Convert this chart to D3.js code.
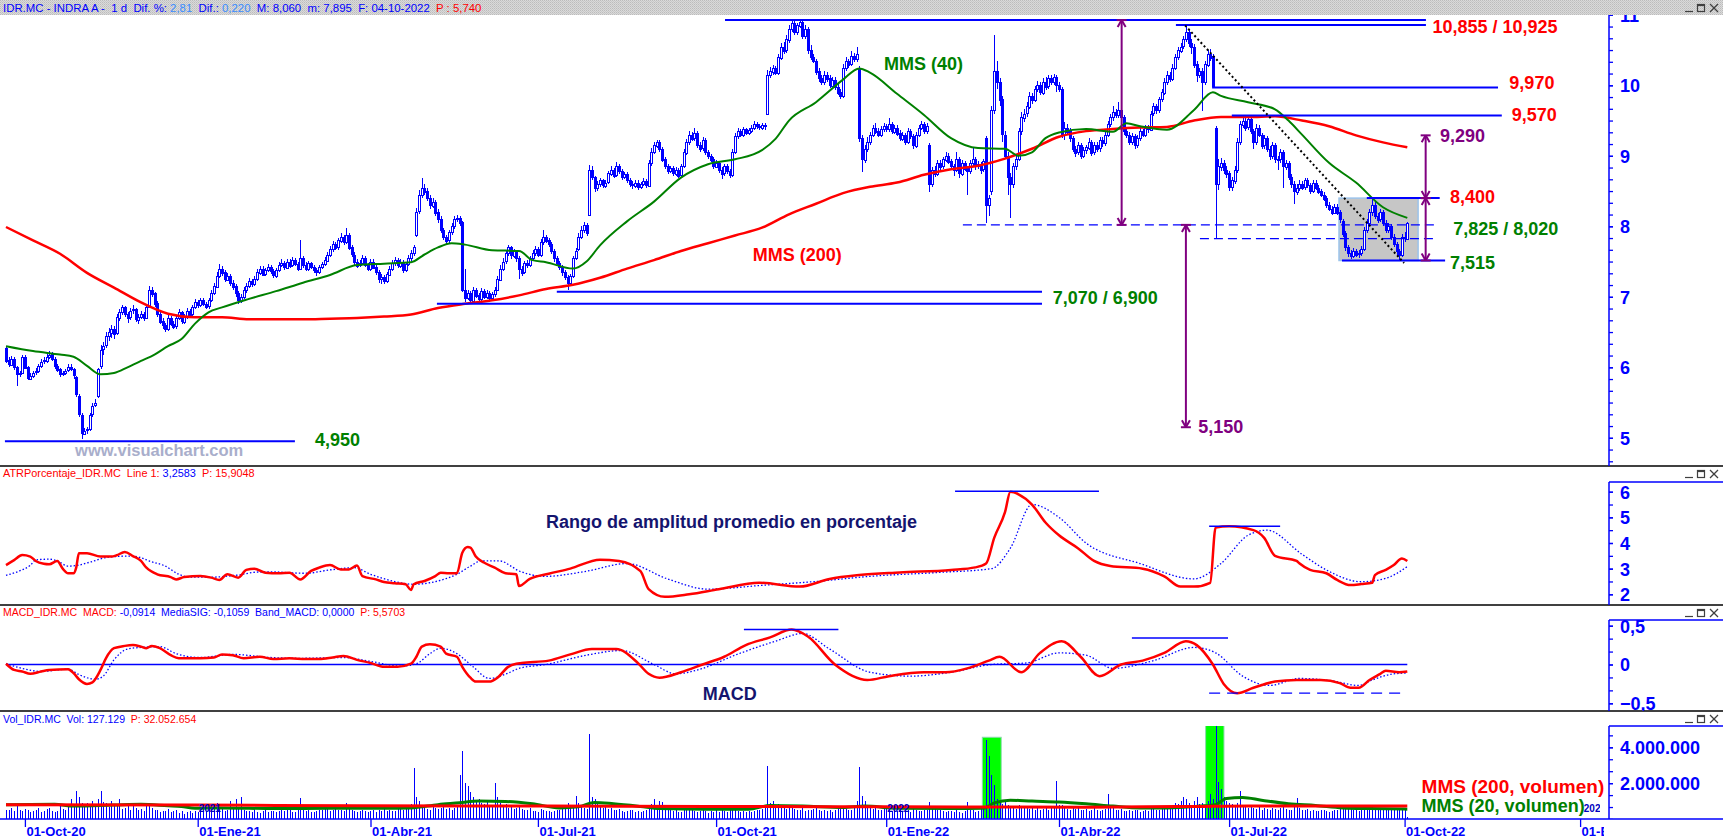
<!DOCTYPE html>
<html>
<head>
<meta charset="utf-8">
<script src="https://cdn.jsdelivr.net/npm/d3@7"></script>
<style>
  body { margin: 0; background: #fff; }
  svg { display: block; }
  text { white-space: pre; }
</style>
</head>
<body>
<svg id="chart" width="1723" height="839"></svg>
<script>
// daily bars, IDR.MC, roughly 22-sep-2020 .. 04-oct-2022
const opens = [
  6.28,6.10,6.04,6.12,6.00,5.90,5.93,6.15,6.00,5.84, 5.88,5.93,5.95,6.02,6.09,6.10,6.15,6.19,6.12,6.02,
  5.97,5.90,5.92,5.96,6.01,5.97,5.86,5.60,5.33,5.06, 5.11,5.12,5.34,5.47,5.59,6.02,6.26,6.32,6.44,6.50,
  6.55,6.50,6.70,6.78,6.85,6.76,6.71,6.80,6.82,6.68, 6.72,6.76,6.70,6.86,7.10,7.05,6.91,6.76,6.66,6.60,
  6.55,6.70,6.62,6.58,6.70,6.78,6.65,6.72,6.80,6.75, 6.85,6.92,6.88,6.95,6.90,6.86,6.95,7.05,7.15,7.30,
  7.40,7.35,7.25,7.30,7.20,7.15,7.05,6.95,7.00,7.10, 7.15,7.22,7.18,7.25,7.35,7.40,7.32,7.38,7.42,7.36,
  7.30,7.38,7.45,7.48,7.42,7.50,7.45,7.52,7.47,7.40, 7.55,7.45,7.40,7.48,7.42,7.38,7.35,7.42,7.46,7.52,
  7.60,7.68,7.75,7.70,7.80,7.85,7.78,7.88,7.70,7.60, 7.50,7.45,7.48,7.55,7.45,7.40,7.50,7.42,7.35,7.25,
  7.28,7.22,7.32,7.40,7.48,7.52,7.45,7.50,7.38,7.46, 7.55,7.62,7.88,8.22,8.45,8.55,8.50,8.40,8.30,8.35,
  8.20,8.10,7.95,7.85,7.80,7.92,8.00,8.10,8.12,8.06, 7.10,6.98,7.05,6.95,7.10,7.02,6.96,7.08,7.00,7.05,
  6.98,7.04,7.10,7.25,7.40,7.50,7.62,7.70,7.58,7.65, 7.55,7.40,7.35,7.48,7.45,7.55,7.62,7.68,7.60,7.78,
  7.85,7.80,7.75,7.65,7.55,7.48,7.42,7.35,7.28,7.20, 7.30,7.55,7.68,7.85,7.95,8.02,8.16,8.80,8.70,8.55,
  8.60,8.65,8.58,8.62,8.75,8.80,8.72,8.85,8.78,8.70, 8.74,8.65,8.60,8.58,8.62,8.56,8.60,8.64,8.58,8.90,
  9.05,9.15,9.20,9.10,8.95,8.85,8.78,8.82,8.75,8.80, 8.72,8.85,9.05,9.20,9.30,9.25,9.32,9.15,9.10,9.22,
  9.05,9.00,8.95,8.85,8.90,8.80,8.75,8.85,8.78,8.72, 9.05,9.28,9.35,9.30,9.38,9.32,9.36,9.40,9.45,9.42,
  9.40,9.44,9.60,10.15,10.20,10.25,10.18,10.40,10.55,10.50, 10.65,10.80,10.88,10.75,10.85,10.90,10.70,10.80,10.50,10.40,
  10.35,10.20,10.10,10.05,10.15,10.10,10.00,10.08,9.98,9.90, 9.85,10.25,10.35,10.30,10.42,10.38,10.24,9.25,8.95,9.10,
  9.20,9.30,9.40,9.35,9.30,9.38,9.42,9.38,9.45,9.35, 9.40,9.32,9.25,9.30,9.20,9.35,9.28,9.15,9.30,9.40,
  9.45,9.35,9.15,8.60,8.80,8.75,8.90,8.85,8.95,9.00, 8.92,8.85,8.80,8.95,8.75,8.90,8.82,8.78,8.90,8.95,
  8.85,8.88,8.80,9.25,8.30,8.50,9.65,10.20,10.05,9.80, 9.30,9.00,8.70,8.60,8.85,8.95,9.35,9.55,9.60,9.70,
  9.85,9.80,9.95,10.00,9.90,10.05,9.98,10.10,10.05,10.12, 10.00,9.95,9.30,9.40,9.35,9.25,9.10,9.05,9.15,9.00,
  9.08,9.12,9.20,9.05,9.15,9.10,9.22,9.18,9.30,9.45, 9.55,9.62,9.58,9.65,9.55,9.35,9.30,9.20,9.28,9.15,
  9.25,9.35,9.30,9.40,9.38,9.60,9.70,9.65,9.80,9.90, 10.05,10.15,10.10,10.25,10.40,10.50,10.55,10.65,10.75,10.60,
  10.55,10.30,10.15,10.20,10.05,10.30,10.45,10.42,9.40,8.60, 8.85,8.90,8.80,8.75,8.55,8.65,8.80,9.20,9.45,9.50,
  9.40,9.52,9.35,9.20,9.40,9.30,9.15,9.25,9.10,9.00, 9.15,8.95,8.95,9.05,8.85,8.90,8.70,8.60,8.50,8.55,
  8.60,8.55,8.65,8.58,8.50,8.62,8.55,8.50,8.45,8.40, 8.30,8.25,8.20,8.28,8.20,8.08,7.90,7.70,7.62,7.58,
  7.65,7.60,7.62,7.68,7.95,8.05,8.20,8.30,8.15,8.10, 8.20,8.05,7.95,8.00,7.85,7.75,7.65,7.60,7.85,7.83
];
const highs = [
  6.30,6.14,6.16,6.14,6.02,5.95,6.18,6.17,6.02,5.92, 5.95,5.99,6.05,6.12,6.14,6.20,6.23,6.21,6.14,6.04,
  5.99,5.95,5.98,6.04,6.05,5.99,5.88,5.62,5.35,5.14, 5.16,5.35,5.50,5.55,5.99,6.32,6.36,6.50,6.56,6.60,
  6.58,6.75,6.83,6.89,6.87,6.79,6.84,6.88,6.84,6.76, 6.80,6.78,6.90,7.15,7.14,7.07,6.94,6.79,6.70,6.63,
  6.74,6.73,6.65,6.74,6.82,6.80,6.76,6.84,6.83,6.89, 6.97,6.95,6.99,6.98,6.93,6.98,7.09,7.20,7.35,7.46,
  7.44,7.38,7.34,7.32,7.24,7.18,7.08,7.04,7.14,7.19, 7.26,7.25,7.29,7.39,7.44,7.43,7.41,7.46,7.45,7.39,
  7.41,7.49,7.53,7.51,7.54,7.53,7.56,7.55,7.50,7.80, 7.58,7.49,7.51,7.50,7.45,7.41,7.45,7.50,7.56,7.64,
  7.72,7.79,7.78,7.84,7.90,7.88,7.97,7.90,7.74,7.63, 7.53,7.52,7.59,7.58,7.48,7.54,7.53,7.45,7.38,7.32,
  7.31,7.35,7.44,7.52,7.56,7.55,7.53,7.52,7.49,7.59, 7.66,7.74,8.26,8.52,8.68,8.60,8.54,8.44,8.40,8.38,
  8.24,8.14,7.98,7.88,7.95,8.04,8.14,8.16,8.15,8.08, 7.40,7.10,7.08,7.14,7.13,7.05,7.12,7.11,7.09,7.08,
  7.07,7.14,7.30,7.45,7.55,7.66,7.74,7.72,7.68,7.67, 7.58,7.44,7.51,7.52,7.58,7.66,7.72,7.71,7.82,7.95,
  7.88,7.83,7.78,7.68,7.58,7.51,7.45,7.38,7.31,7.33, 7.58,7.69,7.90,8.00,8.06,8.04,8.87,8.85,8.72,8.64,
  8.68,8.67,8.66,8.79,8.86,8.83,8.91,8.88,8.81,8.77, 8.77,8.68,8.64,8.66,8.65,8.63,8.68,8.67,8.94,9.11,
  9.19,9.23,9.22,9.12,8.98,8.88,8.86,8.85,8.84,8.83, 8.89,9.09,9.24,9.35,9.34,9.40,9.35,9.19,9.26,9.25,
  9.08,9.03,8.98,8.94,8.93,8.84,8.89,8.88,8.81,9.10, 9.32,9.39,9.38,9.41,9.40,9.39,9.44,9.49,9.48,9.45,
  9.47,9.46,10.21,10.26,10.29,10.28,10.45,10.60,10.62,10.71, 10.85,10.93,10.92,10.89,10.93,10.92,10.86,10.82,10.57,10.45,
  10.38,10.24,10.15,10.20,10.19,10.14,10.12,10.12,10.02,9.95, 10.30,10.40,10.38,10.48,10.46,10.55,10.28,9.30,9.15,9.26,
  9.34,9.44,9.47,9.39,9.42,9.47,9.45,9.53,9.48,9.44, 9.43,9.36,9.34,9.33,9.39,9.38,9.31,9.34,9.44,9.50,
  9.48,9.46,9.18,8.84,8.86,8.94,8.94,8.99,9.05,9.04, 8.96,8.89,9.05,8.98,8.94,8.93,8.86,8.94,9.11,8.99,
  8.93,8.91,8.96,9.28,8.45,9.70,10.71,10.34,10.10,9.85, 9.35,9.05,8.75,8.90,9.00,9.40,9.62,9.66,9.76,9.90,
  9.89,9.99,10.06,10.04,10.10,10.12,10.15,10.14,10.16,10.15, 10.04,9.98,9.48,9.45,9.39,9.28,9.14,9.19,9.18,9.12,
  9.16,9.25,9.23,9.19,9.19,9.26,9.27,9.34,9.50,9.60, 9.70,9.67,9.77,9.68,9.58,9.40,9.34,9.32,9.31,9.29,
  9.39,9.38,9.44,9.44,9.64,9.75,9.74,9.84,9.95,10.10, 10.20,10.19,10.30,10.45,10.55,10.60,10.70,10.86,10.80,10.66,
  10.58,10.34,10.24,10.25,10.34,10.50,10.52,10.45,9.42,8.95, 8.97,8.94,8.85,8.78,8.70,8.85,9.25,9.50,9.57,9.54,
  9.57,9.55,9.38,9.45,9.43,9.33,9.29,9.28,9.14,9.20, 9.18,9.00,9.10,9.08,8.94,8.93,8.74,8.64,8.60,8.66,
  8.64,8.69,8.68,8.62,8.66,8.65,8.58,8.53,8.48,8.43, 8.34,8.29,8.32,8.31,8.23,8.10,7.93,7.74,7.66,7.69,
  7.68,7.66,7.72,7.99,8.10,8.25,8.40,8.34,8.19,8.24, 8.23,8.09,8.04,8.03,7.89,7.78,7.68,7.89,7.92,8.06
];
const lows = [
  6.06,6.00,6.02,5.96,5.73,5.86,5.90,5.97,5.82,5.83, 5.85,5.89,5.92,5.99,6.04,6.06,6.12,6.09,5.98,5.94,
  5.86,5.87,5.89,5.93,5.95,5.84,5.58,5.30,4.99,5.04, 5.06,5.09,5.30,5.44,5.57,5.98,6.18,6.28,6.38,6.42,
  6.40,6.46,6.66,6.74,6.71,6.63,6.67,6.76,6.64,6.62, 6.68,6.66,6.68,6.84,7.00,6.86,6.72,6.61,6.55,6.50,
  6.52,6.59,6.54,6.55,6.67,6.62,6.61,6.69,6.71,6.72, 6.82,6.84,6.85,6.87,6.82,6.83,6.92,7.02,7.12,7.26,
  7.30,7.21,7.22,7.16,7.10,7.00,6.90,6.91,6.97,7.06, 7.12,7.14,7.15,7.22,7.31,7.29,7.29,7.35,7.33,7.26,
  7.27,7.35,7.42,7.38,7.39,7.41,7.42,7.44,7.36,7.38, 7.41,7.36,7.37,7.39,7.34,7.30,7.32,7.39,7.43,7.49,
  7.56,7.64,7.66,7.67,7.76,7.74,7.75,7.66,7.56,7.44, 7.41,7.42,7.45,7.42,7.36,7.37,7.39,7.31,7.20,7.18,
  7.18,7.19,7.29,7.37,7.44,7.41,7.41,7.34,7.35,7.43, 7.51,7.58,7.85,8.18,8.40,8.45,8.36,8.25,8.26,8.15,
  8.05,7.90,7.80,7.75,7.77,7.88,7.96,8.06,8.00,7.07, 6.93,6.95,6.92,6.93,6.99,6.93,6.94,6.97,6.97,6.94,
  6.95,7.00,7.08,7.22,7.36,7.47,7.58,7.54,7.55,7.50, 7.25,7.30,7.32,7.41,7.42,7.52,7.58,7.56,7.57,7.74,
  7.76,7.71,7.61,7.50,7.44,7.38,7.30,7.24,7.10,7.17, 7.27,7.52,7.65,7.82,7.91,7.86,8.14,8.66,8.49,8.50,
  8.56,8.54,8.54,8.60,8.71,8.69,8.70,8.74,8.66,8.67, 8.61,8.56,8.53,8.54,8.52,8.53,8.57,8.55,8.56,8.86,
  9.02,9.11,9.06,8.91,8.81,8.74,8.75,8.71,8.72,8.68, 8.69,8.82,9.01,9.16,9.21,9.21,9.11,9.06,9.07,9.01,
  8.96,8.91,8.81,8.82,8.76,8.67,8.72,8.74,8.68,8.70, 9.02,9.24,9.27,9.27,9.29,9.29,9.33,9.37,9.38,9.36,
  9.36,9.37,9.58,10.10,10.15,10.14,10.15,10.36,10.45,10.46, 10.60,10.76,10.71,10.71,10.81,10.65,10.66,10.45,10.36,10.31,
  10.15,10.05,10.00,10.01,10.05,9.96,9.97,9.94,9.86,9.81, 9.82,10.20,10.25,10.27,10.33,10.33,9.20,8.77,8.90,9.05,
  9.16,9.26,9.31,9.26,9.26,9.34,9.34,9.34,9.31,9.31, 9.28,9.21,9.21,9.15,9.17,9.24,9.10,9.11,9.26,9.36,
  9.31,9.31,8.49,8.56,8.70,8.71,8.80,8.81,8.91,8.88, 8.81,8.72,8.77,8.69,8.71,8.78,8.45,8.74,8.86,8.80,
  8.81,8.74,8.77,8.05,8.15,8.45,9.60,9.95,9.70,9.20, 8.95,8.45,8.12,8.55,8.80,8.92,9.30,9.48,9.55,9.66,
  9.74,9.76,9.91,9.86,9.86,9.94,9.95,10.00,10.01,9.90, 9.90,9.25,9.22,9.30,9.20,9.05,8.99,9.01,8.95,8.97,
  9.03,9.08,9.00,9.01,9.06,9.06,9.13,9.14,9.26,9.41, 9.50,9.53,9.54,9.50,9.30,9.25,9.15,9.16,9.10,9.11,
  9.21,9.26,9.26,9.33,9.35,9.56,9.60,9.61,9.76,9.86, 10.01,10.05,10.06,10.21,10.36,10.46,10.51,10.61,10.55,10.45,
  10.25,10.05,10.10,9.64,10.00,10.26,10.35,9.97,7.825,8.52, 8.78,8.74,8.69,8.50,8.50,8.60,8.76,9.15,9.40,9.35,
  9.36,9.31,9.10,9.16,9.26,9.10,9.10,9.06,8.94,8.96, 8.90,8.80,8.90,8.55,8.80,8.65,8.55,8.31,8.45,8.50,
  8.51,8.52,8.54,8.46,8.47,8.51,8.46,8.41,8.36,8.26, 8.21,8.16,8.17,8.16,8.05,7.85,7.65,7.57,7.54,7.55,
  7.56,7.55,7.58,7.65,7.91,8.01,8.15,8.10,8.04,8.06, 8.00,7.90,7.90,7.80,7.70,7.60,7.515,7.56,7.78,7.895
];
const closes = [
  6.10,6.05,6.12,6.00,5.90,5.92,6.15,6.00,5.85,5.88, 5.92,5.95,6.02,6.08,6.10,6.15,6.18,6.12,6.02,5.97,
  5.90,5.92,5.95,6.00,5.98,5.88,5.62,5.35,5.08,5.10, 5.12,5.32,5.45,5.50,5.97,6.25,6.30,6.45,6.50,6.55,
  6.48,6.72,6.78,6.85,6.75,6.70,6.80,6.82,6.68,6.72, 6.76,6.70,6.85,7.10,7.05,6.90,6.75,6.65,6.60,6.55,
  6.70,6.62,6.58,6.70,6.78,6.65,6.72,6.80,6.75,6.85, 6.92,6.88,6.95,6.90,6.86,6.95,7.05,7.15,7.30,7.40,
  7.35,7.25,7.30,7.20,7.15,7.05,6.95,7.00,7.10,7.15, 7.22,7.18,7.25,7.35,7.40,7.32,7.38,7.42,7.36,7.30,
  7.38,7.45,7.48,7.42,7.50,7.45,7.52,7.47,7.40,7.55, 7.45,7.40,7.48,7.42,7.38,7.35,7.42,7.46,7.52,7.60,
  7.68,7.75,7.70,7.80,7.85,7.78,7.88,7.70,7.60,7.50, 7.45,7.48,7.55,7.45,7.40,7.50,7.42,7.35,7.25,7.28,
  7.22,7.32,7.40,7.48,7.52,7.45,7.50,7.38,7.46,7.55, 7.62,7.70,8.20,8.45,8.55,8.50,8.40,8.30,8.35,8.20,
  8.10,7.95,7.85,7.80,7.92,8.00,8.10,8.12,8.05,7.10, 6.98,7.05,6.95,7.10,7.02,6.96,7.08,7.00,7.05,6.98,
  7.04,7.10,7.25,7.40,7.50,7.62,7.70,7.58,7.65,7.55, 7.40,7.35,7.48,7.45,7.55,7.62,7.68,7.60,7.78,7.85,
  7.80,7.75,7.65,7.55,7.48,7.42,7.35,7.28,7.20,7.30, 7.55,7.65,7.85,7.95,8.02,7.90,8.80,8.70,8.55,8.60,
  8.65,8.58,8.62,8.75,8.80,8.72,8.85,8.78,8.70,8.74, 8.65,8.60,8.58,8.62,8.56,8.60,8.64,8.58,8.90,9.05,
  9.15,9.20,9.10,8.95,8.85,8.78,8.82,8.75,8.80,8.72, 8.85,9.05,9.20,9.30,9.25,9.32,9.15,9.10,9.22,9.05,
  9.00,8.95,8.85,8.90,8.80,8.75,8.85,8.78,8.72,9.05, 9.28,9.35,9.30,9.38,9.32,9.36,9.40,9.45,9.42,9.40,
  9.44,9.42,10.15,10.20,10.25,10.18,10.40,10.55,10.50,10.65, 10.80,10.88,10.75,10.85,10.90,10.70,10.80,10.50,10.40,10.35,
  10.20,10.10,10.05,10.15,10.10,10.00,10.08,9.98,9.90,9.85, 10.25,10.35,10.30,10.42,10.38,10.45,9.25,8.95,9.10,9.20,
  9.30,9.40,9.35,9.30,9.38,9.42,9.38,9.45,9.35,9.40, 9.32,9.25,9.30,9.20,9.35,9.28,9.15,9.30,9.40,9.45,
  9.35,9.42,8.60,8.80,8.75,8.90,8.85,8.95,9.00,8.92, 8.85,8.80,8.95,8.75,8.90,8.82,8.78,8.90,8.95,8.85,
  8.88,8.80,8.92,8.30,8.40,9.65,10.20,10.05,9.80,9.30, 9.00,8.70,8.60,8.85,8.95,9.35,9.55,9.60,9.70,9.85,
  9.80,9.95,10.00,9.90,10.05,9.98,10.10,10.05,10.12,10.00, 9.95,9.30,9.40,9.35,9.25,9.10,9.05,9.15,9.00,9.08,
  9.12,9.20,9.05,9.15,9.10,9.22,9.18,9.30,9.45,9.55, 9.62,9.58,9.65,9.55,9.35,9.30,9.20,9.28,9.15,9.25,
  9.35,9.30,9.40,9.38,9.60,9.70,9.65,9.80,9.90,10.05, 10.15,10.10,10.25,10.40,10.50,10.55,10.65,10.75,10.60,10.55,
  10.30,10.15,10.20,10.05,10.30,10.45,10.40,10.00,8.60,8.85, 8.90,8.80,8.75,8.55,8.65,8.80,9.20,9.45,9.50,9.40,
  9.52,9.35,9.20,9.40,9.30,9.15,9.25,9.10,9.00,9.15, 8.95,8.95,9.05,8.85,8.90,8.70,8.60,8.50,8.55,8.60,
  8.55,8.65,8.58,8.50,8.62,8.55,8.50,8.45,8.40,8.30, 8.25,8.20,8.28,8.20,8.10,7.90,7.70,7.62,7.58,7.65,
  7.60,7.62,7.68,7.95,8.05,8.20,8.30,8.15,8.10,8.20, 8.05,7.95,8.00,7.85,7.75,7.65,7.60,7.85,7.83,8.05
];
// volume, thousands of shares
const volK = [
  520,480,610,450,700,520,430,560,480,390, 450,510,620,380,470,550,600,420,380,460,
  700,560,480,820,1100,760,1570,1240,900,780, 880,650,1000,720,1100,1570,950,900,680,1000,
  760,820,1100,560,640,700,520,880,600,480, 560,430,720,900,610,480,520,390,450,420,
  560,380,430,500,330,460,280,390,430,350, 420,380,520,620,470,560,700,820,900,640,
  550,420,480,1000,580,1110,640,1200,480,450, 430,380,520,410,360,470,500,380,450,420,
  390,460,520,430,480,540,380,400,620,1180, 520,460,480,410,380,440,520,490,640,560,
  450,500,620,480,520,440,900,560,480,420, 400,460,520,430,380,420,480,400,520,470,
  560,430,500,470,420,560,610,520,640,700, 820,2830,1200,1000,760,640,580,520,700,620,
  540,620,700,560,640,520,600,720,2440,3800, 2000,1850,1500,1200,1000,1100,900,820,1050,760,
  700,2000,1200,880,760,820,640,700,560,620, 800,560,480,520,600,460,420,380,560,480,
  420,460,380,430,520,480,560,600,900,700, 640,1300,900,720,620,560,4720,1200,1100,900,
  760,640,700,560,620,520,480,560,420,380, 440,520,480,400,430,380,460,520,780,820,
  1130,640,1000,950,620,520,480,430,560,400, 380,620,480,520,560,420,380,460,500,420,
  360,440,380,480,400,520,460,380,560,620, 480,420,380,440,400,460,380,420,480,520,
  560,640,2960,900,1000,760,820,640,600,560, 700,620,560,480,520,600,460,520,480,560,
  620,480,420,500,460,520,400,480,560,620, 700,560,480,520,600,1000,2900,1300,1000,760,
  620,580,640,520,480,560,600,480,420,500, 460,520,380,440,480,400,560,520,420,460,
  500,520,960,680,560,480,520,440,400,460, 420,380,480,400,360,440,960,520,480,400,
  460,620,700,4400,3500,2450,1900,1100,900,820, 1000,760,700,640,560,760,620,600,700,560,
  640,520,600,480,560,620,520,700,640,2130, 800,760,700,580,520,640,560,600,480,520,
  560,460,520,600,480,440,500,560,1370,700, 620,520,480,560,460,420,500,440,520,480,
  380,440,500,420,560,600,520,480,560,620, 700,640,760,900,820,1000,1200,1100,900,760,
  1000,1200,820,900,700,1000,1400,1100,6500,2070, 1700,1200,1000,900,820,760,900,1570,760,700,
  640,720,600,560,680,520,600,560,480,620, 560,500,640,700,560,480,520,800,1150,600,
  520,480,560,440,500,460,420,520,480,440, 400,460,520,480,560,620,700,640,560,480,
  520,460,500,560,620,700,800,640,560,520, 480,520,560,600,480,520,640,560,500,127
];

// moving averages (bar index, value)
const ma40Idx = [0,10,20,25,30,35,40,45,50,55, 60,65,70,75,80,90,100,110,120,130,
  140,150,155,160,165,170,180,190,195,200, 210,215,220,230,240,250,260,270,280,285,
  290,300,310,316,320,330,340,350,360,370, 375,380,385,390,400,410,415,420,430,440,
  447,450,460,470,475,480,490,500,510,519];
const ma40Val = [6.30,6.23,6.18,6.15,6.02,5.90,5.92,6.00,6.09,6.18, 6.30,6.40,6.62,6.78,6.85,6.97,7.08,7.20,7.31,7.45,
  7.47,7.49,7.60,7.70,7.76,7.74,7.66,7.65,7.52,7.49, 7.40,7.50,7.73,8.07,8.35,8.69,8.88,8.95,9.08,9.24,
  9.50,9.76,10.08,10.24,10.18,9.88,9.58,9.25,9.11,9.10, 9.00,9.05,9.25,9.33,9.38,9.34,9.46,9.42,9.37,9.65,
  9.90,9.85,9.76,9.66,9.50,9.30,8.90,8.62,8.27,8.12];
const ma200Idx = [0,10,20,30,40,50,60,70,80,90, 100,110,120,130,140,150,160,170,180,190,
  200,210,220,230,240,250,260,270,280,290, 300,310,320,330,340,350,360,370,380,390,
  400,410,420,430,440,450,460,470,480,490, 500,510,519];
const ma200Val = [7.99,7.80,7.61,7.34,7.13,6.92,6.76,6.71,6.71,6.68, 6.68,6.68,6.69,6.70,6.72,6.75,6.84,6.90,6.95,7.02,
  7.11,7.17,7.27,7.40,7.52,7.65,7.76,7.87,7.98,8.17, 8.32,8.47,8.56,8.62,8.73,8.81,8.86,8.96,9.10,9.27,
  9.35,9.38,9.40,9.41,9.50,9.55,9.55,9.56,9.50,9.42, 9.29,9.19,9.12];

// ATR % and its signal
const atrIdx = [0,3,6,9,11,14,16,19,21,23, 25,26,27,30,35,39,41,44,47,50,
  52,56,61,63,66,72,76,79,82,86, 89,92,96,101,105,109,113,116,120,124,
  127,130,132,137,140,144,148,150,151,155, 159,161,164,167,169,171,172,174,177,181,
  185,189,190,194,201,209,220,227,235,238, 244,253,264,279,294,305,316,331,350,359,
  363,366,370,372,375,380,385,390,397,403, 409,421,429,435,440,446,448,453,462,466,
  470,478,479,483,489,493,498,502,506,507, 511,514,517,519];
const atrVal = [3.14,3.33,3.53,3.47,3.30,3.19,3.17,3.30,3.00,2.82, 2.82,3.04,3.60,3.60,3.47,3.47,3.52,3.65,3.49,3.30,
  3.04,2.78,2.67,2.58,2.67,2.71,2.65,2.56,2.78,2.65, 2.95,3.00,2.84,2.82,2.84,2.58,2.91,3.04,3.14,2.97,
  2.97,3.12,2.71,2.58,2.48,2.43,2.39,2.17,2.39,2.52, 2.71,2.84,2.82,2.82,3.62,3.84,3.82,3.47,3.24,3.04,
  2.82,2.78,2.32,2.6,2.8,3.0,3.35,3.3,2.9,2.2, 1.9,2.0,2.2,2.45,2.3,2.6,2.75,2.85,2.95,3.05,
  3.2,4.2,5.2,6.0,5.9,5.5,4.8,4.3,3.8,3.3, 3.1,3.0,2.7,2.3,2.3,2.45,4.6,4.65,4.5,4.2,
  3.5,3.3,3.21,2.95,2.82,2.56,2.36,2.40,2.45,2.75, 2.95,3.14,3.40,3.30];
const atrSigIdx = [0,5,9,11,16,19,23,26,31,38, 46,50,53,59,64,68,76,85,94,100,
  105,111,120,129,135,140,146,151,157,162, 167,172,176,183,187,190,200,215,230,245,
  260,280,300,320,345,365,372,380,390,400, 420,440,450,460,467,480,489,502,511,519];
const atrSigVal = [2.74,2.91,3.13,3.34,3.37,3.30,3.10,3.12,3.25,3.45, 3.49,3.43,3.30,3.10,2.78,2.67,2.67,2.74,2.87,2.87,
  2.84,2.82,2.95,3.04,2.78,2.61,2.45,2.39,2.45,2.58, 2.78,3.10,3.30,3.30,3.10,2.91,2.7,2.9,3.2,2.6,
  2.2,2.35,2.5,2.7,2.85,3.0,3.8,5.5,5.0,4.0, 3.2,2.6,3.2,4.3,4.5,3.56,2.95,2.49,2.62,3.08];

// MACD and MediaSIG
const macdIdx = [0,3,6,9,13,16,23,25,27,30, 32,35,37,40,44,47,50,52,54,57,
  61,64,72,77,80,84,88,94,99,105, 111,116,121,125,130,135,140,145,150,152,
  154,157,161,163,167,169,172,174,179,182, 186,189,191,201,209,217,226,234,238,242,
  250,258,266,274,283,291,297,307,319,327, 340,348,356,364,368,376,383,391,398,405,
  413,421,429,437,441,447,451,456,462,470, 478,487,494,498,501,505,509,511,516,519];
const macdVal = [0.01,-0.07,-0.09,-0.12,-0.09,-0.07,-0.06,-0.11,-0.19,-0.25, -0.23,-0.07,0.08,0.21,0.24,0.25,0.23,0.21,0.24,0.21,
  0.12,0.08,0.08,0.09,0.13,0.12,0.08,0.10,0.07,0.08, 0.07,0.07,0.09,0.11,0.06,0.02,-0.03,-0.03,0.01,0.10,
  0.23,0.26,0.23,0.14,0.10,-0.03,-0.17,-0.22,-0.22,-0.17, -0.03,0.01,0.02,0.05,0.13,0.20,0.20,0.02,-0.12,-0.17,
  -0.10,0.0,0.10,0.25,0.35,0.45,0.36,0.0,-0.20,-0.15, -0.10,-0.10,-0.05,0.05,0.10,-0.10,0.15,0.30,0.10,-0.15,
  0.0,0.05,0.15,0.30,0.25,0.0,-0.25,-0.37,-0.30,-0.22, -0.20,-0.20,-0.24,-0.30,-0.30,-0.20,-0.12,-0.08,-0.10,-0.09];
const sigIdx = [0,6,13,23,27,33,36,40,45,50, 57,63,72,84,98,109,125,135,146,152,
  157,161,167,173,179,186,190,200,215,228, 240,248,258,270,285,295,305,320,335,350,
  365,378,390,400,410,425,440,448,458,468, 479,491,501,506,514,519];
const sigVal = [0.01,-0.05,-0.09,-0.06,-0.13,-0.19,-0.15,0.06,0.20,0.22, 0.23,0.14,0.09,0.13,0.09,0.08,0.09,0.04,-0.02,0.01,
  0.14,0.21,0.14,-0.03,-0.18,-0.11,-0.05,0.0,0.12,0.18, 0.0,-0.12,-0.05,0.12,0.30,0.40,0.2,-0.10,-0.15,-0.10,
  0.0,0.02,0.15,0.12,-0.05,0.05,0.22,0.15,-0.15,-0.27, -0.18,-0.21,-0.27,-0.20,-0.12,-0.11];

// volume averages (thousands)
const volMa20Idx = [0,18,25,40,50,60,65,70,80,100, 120,140,150,160,168,175,185,195,205,212,
  218,225,235,242,260,275,283,295,310,318, 330,350,362,366,372,380,390,400,410,420,
  430,442,448,452,458,465,475,485,495,505, 519];
const volMa20Val = [800,820,720,780,820,740,700,600,620,580, 600,600,620,800,900,1000,980,850,620,680,
  920,850,700,580,550,550,750,720,640,720, 600,580,600,900,1050,1000,950,850,720,620,
  620,720,800,1150,1200,1050,850,750,620,580, 550];
const volMa200Idx = [0,70,130,200,260,330,400,440,460,519];
const volMa200Val = [800,780,740,720,700,680,660,700,730,720];

// axis ticks
const dateIdx = [7,71,135,197,263,326,390,453,518,583];
const dateLbl = ["01-Oct-20","01-Ene-21","01-Abr-21","01-Jul-21","01-Oct-21","01-Ene-22","01-Abr-22","01-Jul-22","01-Oct-22","01-Ene-23"];
const yearIdx = [71,326,584];
const yearLbl = ["2021","2022","2023"];
const priceTicks = [5,6,7,8,9,10,11];
const atrTicks = [2,3,4,5,6];
const macdTicks = [-0.5,0,0.5];
const volTicks = [2000,4000];

// annotations (bar index / value)
const hlVal  = [10.925,10.855,9.97,9.57,8.40,7.515,7.07,6.90,4.95];
const hlFrom = [266.3,433.3,446.7,454,504,494.8,204,159.6,-0.4];
const hlTo   = [525.9,525.9,552.6,554,531,533,383.7,383.7,107];
const dlVal  = [8.02,7.825];
const dlFrom = [354.4,442.2];
const dlTo   = [530,528.5];
const boxIdx = [493.7,523];
const boxVal = [8.40,7.515];
const trendIdx = [436.7,517.8];
const trendVal = [10.85,7.48];
const arrIdx  = [413.2,437,525.8,525.8];
const arrFrom = [10.925,8.02,9.29,8.40];
const arrTo   = [8.02,5.15,8.40,7.515];
const annText = ["10,855 / 10,925","9,970","9,570","9,290","8,400","7,825 / 8,020","7,515","7,070 / 6,900","5,150","4,950","MMS (40)","MMS (200)"];
const annIdx  = [528.3,556.8,557.7,531.1,534.8,536,534.8,387.7,441.6,114.4,325.2,276.6];
const annVal  = [10.827,10.044,9.586,9.291,8.427,7.966,7.491,6.993,5.163,4.976,10.306,7.593];
const atrHlVal = [6.02,4.65], atrHlFrom = [351.5,445.6], atrHlTo = [404.8,471.9];
const macdHlVal = [0.45,0.34], macdHlFrom = [273.3,417], macdHlTo = [308.3,452.6];
const macdDashVal = [-0.37], macdDashFrom = [445.6], macdDashTo = [518];
const hiFrom = [361.6,444.3], hiTo = [368.6,451.1], hiTop = [4560,6000];

const titleText = ["IDR.MC - INDRA A -  1 d  Dif. %: ","2,81","  Dif.: ","0,220","  M: 8,060  m: 7,895  F: 04-10-2022  ","P : 5,740"];
const atrHead = ["ATRPorcentaje_IDR.MC  Line 1: ","3,2583","  P: 15,9048"];
const macdHead = ["MACD_IDR.MC  MACD: ","-0,0914  MediaSIG: -0,1059  Band_MACD: 0,0000","  P: 5,5703"];
const volHead = ["Vol_IDR.MC  Vol: 127.129  ","P: 32.052.654"];

// ---------------------------------------------------------------
const N = closes.length;
[opens, highs, lows, volK].forEach((a, k) => {
  if (a.length !== N) throw new Error("series " + k + " has " + a.length + " values, expected " + N);
});

const svg = d3.select("#chart");
const FONT = "'Liberation Sans', Arial, Helvetica, sans-serif";
const BLUE = "#0000ff", RED = "#ff0000", GREEN = "#008000", PURPLE = "#800080", NAVY = "#14146e";
const axisX = 1609;

const x = d3.scaleLinear().domain([0, 519]).range([6, 1407.3]);
const yP = d3.scaleLinear().domain([5, 10]).range([437.8, 85.3]);
const yA = d3.scaleLinear().domain([2, 6]).range([594.3, 491.7]);
const yM = d3.scaleLinear().domain([-0.5, 0.5]).range([703.3, 625.7]);
const yV = d3.scaleLinear().domain([0, 4000]).range([819, 747.3]);

const loc = d3.formatLocale({decimal: ",", thousands: ".", grouping: [3], currency: ["", ""]});
const fmtInt = loc.format(",d");
const fmtDec = v => (v === 0 ? "0" : loc.format(",.1f")(v));

const defs = svg.append("defs");
function clip(id, x0, y0, w, h) {
  defs.append("clipPath").attr("id", id).append("rect")
    .attr("x", x0).attr("y", y0).attr("width", w).attr("height", h);
}
clip("cMain", 0, 15, axisX, 451);
clip("cAtr", 0, 466, axisX, 139);
clip("cMacd", 0, 605, axisX, 106);
clip("cVol", 0, 726, axisX, 93);
clip("cMainAx", axisX, 15, 114, 451);
clip("cAtrAx", axisX, 482, 114, 123);
clip("cMacdAx", axisX, 620, 114, 91);
clip("cVolAx", axisX, 726, 114, 93);
clip("cDates", 0, 819, 1604, 20);
clip("cYears", 0, 726, 1600, 93);

const zip = (a, b) => a.map((v, k) => [v, b[k]]);
const bars = d3.range(N);

// ---------- main price panel ----------
const gMain = svg.append("g").attr("clip-path", "url(#cMain)");

gMain.append("rect")
  .attr("x", x(boxIdx[0])).attr("y", yP(boxVal[0]))
  .attr("width", x(boxIdx[1]) - x(boxIdx[0])).attr("height", yP(boxVal[1]) - yP(boxVal[0]))
  .attr("fill", "#c6c6c6").attr("stroke", "#9cc4ec").attr("stroke-width", 1.5);

const gCandle = gMain.append("g").attr("shape-rendering", "crispEdges");
gCandle.selectAll("line").data(bars).join("line")
  .attr("x1", i => Math.round(x(i)) + 0.5).attr("x2", i => Math.round(x(i)) + 0.5)
  .attr("y1", i => yP(highs[i])).attr("y2", i => yP(lows[i]))
  .attr("stroke", BLUE).attr("stroke-width", 1);
gCandle.selectAll("rect").data(bars).join("rect")
  .attr("x", i => Math.round(x(i)) - 0.5)
  .attr("y", i => Math.round(yP(Math.max(opens[i], closes[i]))) + 0.5)
  .attr("width", 2)
  .attr("height", i => Math.max(1, Math.round(Math.abs(yP(opens[i]) - yP(closes[i])))))
  .attr("fill", i => closes[i] >= opens[i] ? "#fff" : BLUE)
  .attr("stroke", BLUE).attr("stroke-width", 1);

const lineP = d3.line().x(d => x(d[0])).y(d => yP(d[1])).curve(d3.curveMonotoneX);
gMain.append("path").attr("d", lineP(zip(ma200Idx, ma200Val)))
  .attr("fill", "none").attr("stroke", RED).attr("stroke-width", 2.5);
gMain.append("path").attr("d", lineP(zip(ma40Idx, ma40Val)))
  .attr("fill", "none").attr("stroke", GREEN).attr("stroke-width", 2);

hlVal.forEach((v, k) => {
  gMain.append("line").attr("x1", x(hlFrom[k])).attr("x2", x(hlTo[k]))
    .attr("y1", yP(v)).attr("y2", yP(v)).attr("stroke", BLUE).attr("stroke-width", 2);
});
dlVal.forEach((v, k) => {
  gMain.append("line").attr("x1", x(dlFrom[k])).attr("x2", x(dlTo[k]))
    .attr("y1", yP(v)).attr("y2", yP(v)).attr("stroke", BLUE).attr("stroke-width", 1.2)
    .attr("stroke-dasharray", "9,5");
});

gMain.append("line")
  .attr("x1", x(trendIdx[0])).attr("y1", yP(trendVal[0]))
  .attr("x2", x(trendIdx[1])).attr("y2", yP(trendVal[1]))
  .attr("stroke", "#000").attr("stroke-width", 2).attr("stroke-dasharray", "2,2.6");

function arrowHead(g, px, py, dir) {
  g.append("line").attr("x1", px - 5).attr("x2", px + 5).attr("y1", py).attr("y2", py);
  g.append("line").attr("x1", px).attr("y1", py).attr("x2", px - 4).attr("y2", py + dir * 7);
  g.append("line").attr("x1", px).attr("y1", py).attr("x2", px + 4).attr("y2", py + dir * 7);
}
const gArr = gMain.append("g").attr("stroke", PURPLE).attr("stroke-width", 2);
arrIdx.forEach((xi, k) => {
  const px = x(xi), y1 = yP(arrFrom[k]), y2 = yP(arrTo[k]);
  gArr.append("line").attr("x1", px).attr("x2", px).attr("y1", y1).attr("y2", y2);
  arrowHead(gArr, px, y1, 1);
  arrowHead(gArr, px, y2, -1);
});

const annColor = [RED, RED, RED, PURPLE, RED, GREEN, GREEN, GREEN, PURPLE, GREEN, GREEN, RED];
annText.forEach((t, k) => {
  gMain.append("text").attr("x", x(annIdx[k])).attr("y", yP(annVal[k]) + 6.5)
    .attr("font-family", FONT).attr("font-weight", "bold").attr("font-size", 18)
    .attr("fill", annColor[k]).text(t);
});
gMain.append("text").attr("x", x(25.6)).attr("y", yP(4.82) + 5.8)
  .attr("font-family", FONT).attr("font-weight", "bold").attr("font-size", 16.5)
  .attr("fill", "#a9aecb").text("www.visualchart.com");

// ---------- ATR panel ----------
const gAtr = svg.append("g").attr("clip-path", "url(#cAtr)");
const lineA = d3.line().x(d => x(d[0])).y(d => yA(d[1])).curve(d3.curveMonotoneX);
gAtr.append("path").attr("d", lineA(zip(atrSigIdx, atrSigVal)))
  .attr("fill", "none").attr("stroke", BLUE).attr("stroke-width", 1.3).attr("stroke-dasharray", "1.5,2");
gAtr.append("path").attr("d", lineA(zip(atrIdx, atrVal)))
  .attr("fill", "none").attr("stroke", RED).attr("stroke-width", 2.5);
atrHlVal.forEach((v, k) => {
  gAtr.append("line").attr("x1", x(atrHlFrom[k])).attr("x2", x(atrHlTo[k]))
    .attr("y1", yA(v)).attr("y2", yA(v)).attr("stroke", BLUE).attr("stroke-width", 1.5);
});
gAtr.append("text").attr("x", x(200)).attr("y", yA(4.82) + 6.5)
  .attr("font-family", FONT).attr("font-weight", "bold").attr("font-size", 18)
  .attr("fill", NAVY).text("Rango de amplitud promedio en porcentaje");

// ---------- MACD panel ----------
const gMacd = svg.append("g").attr("clip-path", "url(#cMacd)");
const lineM = d3.line().x(d => x(d[0])).y(d => yM(d[1])).curve(d3.curveMonotoneX);
gMacd.append("line").attr("x1", x(0)).attr("x2", x(N - 1)).attr("y1", yM(0)).attr("y2", yM(0))
  .attr("stroke", BLUE).attr("stroke-width", 1.5);
gMacd.append("path").attr("d", lineM(zip(sigIdx, sigVal)))
  .attr("fill", "none").attr("stroke", BLUE).attr("stroke-width", 1.3).attr("stroke-dasharray", "1.5,2");
gMacd.append("path").attr("d", lineM(zip(macdIdx, macdVal)))
  .attr("fill", "none").attr("stroke", RED).attr("stroke-width", 2.5);
macdHlVal.forEach((v, k) => {
  gMacd.append("line").attr("x1", x(macdHlFrom[k])).attr("x2", x(macdHlTo[k]))
    .attr("y1", yM(v)).attr("y2", yM(v)).attr("stroke", BLUE).attr("stroke-width", 1.5);
});
macdDashVal.forEach((v, k) => {
  gMacd.append("line").attr("x1", x(macdDashFrom[k])).attr("x2", x(macdDashTo[k]))
    .attr("y1", yM(v)).attr("y2", yM(v)).attr("stroke", BLUE).attr("stroke-width", 1.3)
    .attr("stroke-dasharray", "11,7");
});
gMacd.append("text").attr("x", x(258.1)).attr("y", yM(-0.375) + 6.5)
  .attr("font-family", FONT).attr("font-weight", "bold").attr("font-size", 18)
  .attr("fill", NAVY).text("MACD");

// ---------- volume panel ----------
const gVol = svg.append("g").attr("clip-path", "url(#cVol)");
hiFrom.forEach((f, k) => {
  gVol.append("rect").attr("x", x(f)).attr("y", yV(hiTop[k]))
    .attr("width", x(hiTo[k]) - x(f)).attr("height", yV(0) - yV(hiTop[k]))
    .attr("fill", "#00ff00").attr("stroke", "#8fd8b0").attr("stroke-width", 1);
});
const gYears = svg.append("g").attr("clip-path", "url(#cYears)");
yearIdx.forEach((xi, k) => {
  gYears.append("text").attr("x", x(xi) + 1).attr("y", yV(400))
    .attr("font-family", FONT).attr("font-weight", "bold").attr("font-size", 10)
    .attr("fill", "#0000c0").text(yearLbl[k]);
});
gVol.append("g").attr("shape-rendering", "crispEdges")
  .selectAll("rect").data(bars).join("rect")
  .attr("x", i => Math.round(x(i)) - 0.5).attr("width", 1.6)
  .attr("y", i => yV(volK[i])).attr("height", i => yV(0) - yV(volK[i]))
  .attr("fill", BLUE);
const lineV = d3.line().x(d => x(d[0])).y(d => yV(d[1])).curve(d3.curveMonotoneX);
gVol.append("path").attr("d", lineV(zip(volMa20Idx, volMa20Val)))
  .attr("fill", "none").attr("stroke", GREEN).attr("stroke-width", 3);
gVol.append("path").attr("d", lineV(zip(volMa200Idx, volMa200Val)))
  .attr("fill", "none").attr("stroke", RED).attr("stroke-width", 3);
gVol.append("text").attr("x", x(524.3)).attr("y", yV(1817) + 6.8)
  .attr("font-family", FONT).attr("font-weight", "bold").attr("font-size", 19)
  .attr("fill", RED).text("MMS (200, volumen)");
gVol.append("text").attr("x", x(524.3)).attr("y", yV(761) + 6.5)
  .attr("font-family", FONT).attr("font-weight", "bold").attr("font-size", 18)
  .attr("fill", GREEN).text("MMS (20, volumen)");

// ---------- frames, separators ----------
[466, 605, 711].forEach(y => {
  svg.append("line").attr("x1", 0).attr("x2", 1723).attr("y1", y).attr("y2", y)
    .attr("stroke", "#000").attr("stroke-width", 1.6);
});
svg.append("line").attr("x1", 0).attr("x2", 1723).attr("y1", 819).attr("y2", 819)
  .attr("stroke", BLUE).attr("stroke-width", 1.3);
svg.append("line").attr("x1", axisX).attr("x2", axisX).attr("y1", 15).attr("y2", 466)
  .attr("stroke", BLUE).attr("stroke-width", 1.5);
[[482, 605], [620, 711], [726, 819]].forEach(([t, b]) => {
  svg.append("line").attr("x1", axisX).attr("x2", 1723).attr("y1", t).attr("y2", t)
    .attr("stroke", BLUE).attr("stroke-width", 1.5);
  svg.append("line").attr("x1", axisX).attr("x2", axisX).attr("y1", t).attr("y2", b)
    .attr("stroke", BLUE).attr("stroke-width", 1.5);
});

// ---------- right axes ----------
function rightAxis(scale, majors, minors, fmt, clipId) {
  const outer = svg.append("g").attr("clip-path", "url(#" + clipId + ")");
  const g = outer.append("g").attr("transform", "translate(" + axisX + ",0)");
  g.append("g").call(d3.axisRight(scale).tickValues(minors).tickSize(4).tickFormat(""));
  g.append("g").call(d3.axisRight(scale).tickValues(majors).tickSize(4).tickPadding(7).tickFormat(fmt));
  g.selectAll(".domain").remove();
  g.selectAll("line").attr("stroke", BLUE).attr("stroke-width", 1.3);
  g.selectAll("text").attr("fill", BLUE).attr("font-family", FONT)
    .attr("font-weight", "bold").attr("font-size", 18).attr("dy", "0.36em");
}
rightAxis(yP, priceTicks, d3.range(4.5, 11.2, 1 / 6), d3.format("d"), "cMainAx");
rightAxis(yA, atrTicks, d3.range(1.5, 6.6, 0.5), d3.format("d"), "cAtrAx");
rightAxis(yM, macdTicks, d3.range(-4, 5).map(k => k / 6), fmtDec, "cMacdAx");
rightAxis(yV, volTicks, d3.range(0, 8).map(k => k * 2000 / 3), v => fmtInt(v * 1000), "cVolAx");

// ---------- date axis ----------
const gDates = svg.append("g").attr("clip-path", "url(#cDates)")
  .append("g").attr("transform", "translate(0,819)");
gDates.call(d3.axisBottom(x).tickValues(dateIdx).tickSize(8).tickFormat((d, k) => dateLbl[k]));
gDates.select(".domain").remove();
gDates.selectAll("line").attr("stroke", BLUE).attr("stroke-width", 1.3);
gDates.selectAll("text").attr("fill", BLUE).attr("font-family", FONT).attr("font-weight", "bold")
  .attr("font-size", 13).attr("text-anchor", "start").attr("x", 1).attr("y", 8).attr("dy", "0.71em");

// ---------- headers ----------
function header(parts, colors, y, size) {
  const t = svg.append("text").attr("x", 3).attr("y", y)
    .attr("font-family", FONT).attr("font-size", size);
  parts.forEach((p, k) => t.append("tspan").attr("fill", colors[k]).text(p));
}
const pat = defs.append("pattern").attr("id", "dither").attr("width", 2).attr("height", 2)
  .attr("patternUnits", "userSpaceOnUse");
pat.append("rect").attr("width", 2).attr("height", 2).attr("fill", "#dadada");
pat.append("rect").attr("width", 1).attr("height", 1).attr("fill", "#bcbcbc");
pat.append("rect").attr("x", 1).attr("y", 1).attr("width", 1).attr("height", 1).attr("fill", "#c8c8c8");
svg.append("rect").attr("x", 0).attr("y", 0).attr("width", 1723).attr("height", 15).attr("fill", "url(#dither)");

header(titleText, [BLUE, "#3a8cff", BLUE, "#3a8cff", BLUE, RED], 11.5, 11.4);
header(atrHead, [RED, BLUE, RED], 477, 10.9);
header(macdHead, [RED, BLUE, RED], 616, 10.5);
header(volHead, [BLUE, RED], 722.5, 10.5);

function winButtons(y0) {
  const g = svg.append("g").attr("stroke", "#404040").attr("stroke-width", 1.2).attr("fill", "none");
  g.append("line").attr("x1", 1685).attr("x2", 1693).attr("y1", y0 + 11.5).attr("y2", y0 + 11.5);
  g.append("rect").attr("x", 1697.5).attr("y", y0 + 4.5).attr("width", 7).attr("height", 7);
  g.append("line").attr("x1", 1697.5).attr("x2", 1704.5).attr("y1", y0 + 5.5).attr("y2", y0 + 5.5);
  g.append("line").attr("x1", 1710).attr("y1", y0 + 4).attr("x2", 1718).attr("y2", y0 + 12);
  g.append("line").attr("x1", 1718).attr("y1", y0 + 4).attr("x2", 1710).attr("y2", y0 + 12);
}
[0, 466, 605, 711].forEach(winButtons);
</script>
</body>
</html>
